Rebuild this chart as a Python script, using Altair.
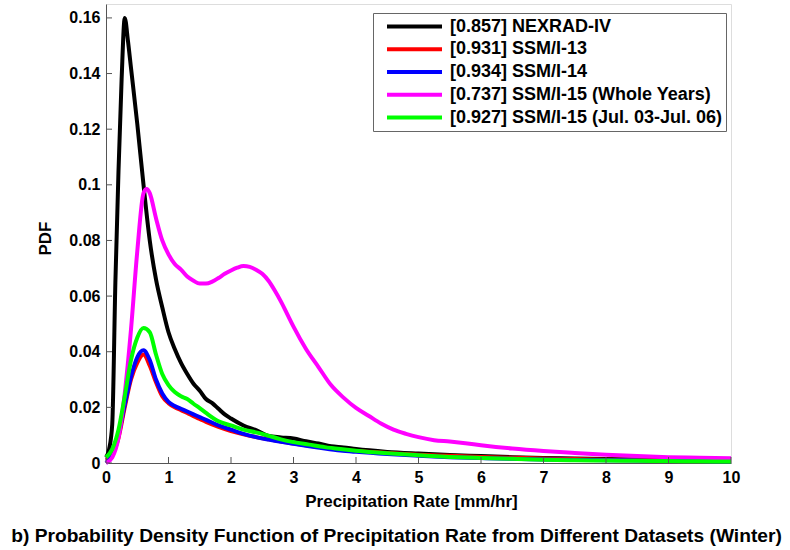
import altair as alt
import pandas as pd

series_names = [
    "[0.857] NEXRAD-IV",
    "[0.931] SSM/I-13",
    "[0.934] SSM/I-14",
    "[0.737] SSM/I-15 (Whole Years)",
    "[0.927] SSM/I-15 (Jul. 03-Jul. 06)",
]
series_colors = ["#000000", "#FF0000", "#0000FF", "#FF00FF", "#00FF00"]

nexrad_x = [0, 0.05, 0.1, 0.15, 0.2, 0.25, 0.3, 0.35, 0.4, 0.5, 0.6, 0.7, 0.8, 0.9, 1.0, 1.1, 1.2,
            1.3, 1.4, 1.5, 1.6, 1.7, 1.8, 1.9, 2.0, 2.2, 2.4, 2.6, 2.8, 3.0, 3.2, 3.4, 3.6, 3.8, 4.0,
            4.5, 5.0, 5.5, 6.0, 6.5, 7.0, 7.5, 8.0, 8.5, 9.0, 9.5, 10.0]
nexrad_y = [0.002, 0.005, 0.014, 0.065, 0.105, 0.138, 0.160, 0.152, 0.142, 0.122, 0.100, 0.080,
            0.066, 0.056, 0.047, 0.041, 0.036, 0.032, 0.0285, 0.026, 0.023, 0.0215, 0.0195, 0.0175,
            0.016, 0.0135, 0.0118, 0.0097, 0.0092, 0.0088, 0.0078, 0.0070, 0.0060, 0.0056, 0.0050,
            0.0040, 0.0034, 0.0029, 0.0025, 0.0021, 0.0018, 0.0016, 0.0014, 0.0013, 0.0012, 0.0011,
            0.0010]

grid_x = [0, 0.1, 0.2, 0.3, 0.4, 0.5, 0.6, 0.7, 0.8, 0.9, 1.0, 1.1, 1.2, 1.3, 1.4, 1.5, 1.6, 1.8,
          2.0, 2.2, 2.4, 2.6, 2.8, 3.0, 3.25, 3.5, 3.75, 4.0, 4.5, 5.0, 5.5, 6.0, 6.5, 7.0, 7.5, 8.0,
          8.5, 9.0, 9.5, 10.0]
ssmi13_y = [0.001, 0.003, 0.009, 0.020, 0.030, 0.036, 0.039, 0.035, 0.029, 0.024, 0.0215, 0.020,
            0.019, 0.018, 0.0168, 0.0158, 0.0148, 0.013, 0.0115, 0.0103, 0.0093, 0.0085, 0.0077,
            0.0070, 0.0062, 0.0055, 0.0048, 0.0043, 0.0036, 0.0030, 0.0026, 0.0022, 0.0019, 0.0016,
            0.0014, 0.0012, 0.0011, 0.0010, 0.0009, 0.0008]
ssmi14_y = [0.000, 0.003, 0.010, 0.021, 0.031, 0.038, 0.0405, 0.037, 0.030, 0.025, 0.022, 0.0205,
            0.0195, 0.0185, 0.0175, 0.0165, 0.0155, 0.0135, 0.012, 0.0105, 0.0093, 0.0084, 0.0076,
            0.0069, 0.0060, 0.0052, 0.0045, 0.0040, 0.0032, 0.0026, 0.0021, 0.0018, 0.0015, 0.0013,
            0.0011, 0.0010, 0.0009, 0.0008, 0.0007, 0.0006]
ssmi15jul_y = [0.002, 0.005, 0.012, 0.024, 0.037, 0.045, 0.0485, 0.047, 0.039, 0.032, 0.028, 0.0255,
               0.024, 0.023, 0.0213, 0.0197, 0.018, 0.015, 0.0135, 0.012, 0.011, 0.0098, 0.0085,
               0.0075, 0.0066, 0.0057, 0.0050, 0.0044, 0.0035, 0.0028, 0.0022, 0.0018, 0.0015,
               0.0012, 0.0010, 0.0009, 0.0008, 0.0007, 0.0006, 0.0005]

whole_x = [0, 0.1, 0.2, 0.3, 0.4, 0.5, 0.6, 0.65, 0.7, 0.8, 0.9, 1.0, 1.1, 1.2, 1.3, 1.4, 1.5, 1.6,
           1.7, 1.8, 1.9, 2.0, 2.1, 2.2, 2.3, 2.4, 2.5, 2.6, 2.7, 2.8, 2.9, 3.0, 3.2, 3.4, 3.6, 3.8,
           4.0, 4.2, 4.4, 4.6, 4.8, 5.0, 5.25, 5.5, 5.75, 6.0, 6.5, 7.0, 7.5, 8.0, 8.5, 9.0, 9.5,
           10.0]
whole_y = [0.000, 0.002, 0.009, 0.025, 0.048, 0.076, 0.097, 0.0985, 0.097, 0.088, 0.080, 0.075,
           0.0715, 0.0695, 0.067, 0.0655, 0.0645, 0.0645, 0.0652, 0.0665, 0.068, 0.0692, 0.0702,
           0.0708, 0.0705, 0.0695, 0.068, 0.0655, 0.062, 0.058, 0.0535, 0.049, 0.041, 0.0345, 0.028,
           0.0235, 0.0198, 0.017, 0.0142, 0.012, 0.0105, 0.0093, 0.0082, 0.0077, 0.0071, 0.0064,
           0.0052, 0.0043, 0.0036, 0.0030, 0.0025, 0.0021, 0.0019, 0.0017]

x_tick_values = [0, 1, 2, 3, 4, 5, 6, 7, 8, 9, 10]
y_tick_values = [0, 0.02, 0.04, 0.06, 0.08, 0.1, 0.12, 0.14, 0.16]

series_data = [
    (series_names[0], nexrad_x, nexrad_y),
    (series_names[1], grid_x, ssmi13_y),
    (series_names[2], grid_x, ssmi14_y),
    (series_names[3], whole_x, whole_y),
    (series_names[4], grid_x, ssmi15jul_y),
]
rows = []
for name, xs, ys in series_data:
    for xv, yv in zip(xs, ys):
        rows.append({"series": name, "rate": xv, "pdf": yv})
df = pd.DataFrame(rows)

W, H = 625, 459
FONT = "Liberation Sans"
xscale = alt.Scale(domain=[0, 10], nice=False)
yscale = alt.Scale(domain=[0, 0.165], nice=False)
cscale = alt.Scale(domain=series_names, range=series_colors)

x_axis = alt.Axis(values=x_tick_values, title="Precipitation Rate [mm/hr]", grid=False,
                  ticks=False, labelFlush=False, labelPadding=6, labelFont=FONT,
                  labelFontSize=16, labelFontWeight="bold", labelColor="black",
                  titleFont=FONT, titleFontSize=17, titleFontWeight="bold", titleColor="black",
                  titleX=305, titleY=38, titleBaseline="middle", domainColor="#555555")
y_axis = alt.Axis(values=y_tick_values, format="~g", title="PDF", grid=False, ticks=False,
                  labelFlush=False, labelPadding=6, labelFont=FONT, labelFontSize=16,
                  labelFontWeight="bold", labelColor="black", titleFont=FONT, titleFontSize=17,
                  titleFontWeight="bold", titleColor="black", titleX=-61, titleY=234,
                  titleAngle=270, titleBaseline="middle", titleAlign="center",
                  domainColor="#555555")
legend = alt.Legend(title=None, orient="none", legendX=267, legendY=9, strokeColor="#666666",
                    fillColor="white", padding=3, symbolType="stroke", symbolSize=3025,
                    symbolStrokeWidth=4, clipHeight=21, rowPadding=1.75, labelFont=FONT,
                    labelFontSize=18, labelFontWeight="bold", labelColor="black", labelLimit=500,
                    labelOffset=6, symbolOffset=9)

layers = []
for name in series_names:
    layers.append(
        alt.Chart(df).transform_filter(alt.datum.series == name)
        .mark_line(strokeWidth=4, interpolate="monotone")
        .encode(
            x=alt.X("rate:Q", scale=xscale, axis=x_axis),
            y=alt.Y("pdf:Q", scale=yscale, axis=y_axis),
            color=alt.Color("series:N", scale=cscale, legend=legend),
        )
    )

xt = pd.DataFrame({"rate": x_tick_values})
yt = pd.DataFrame({"pdf": y_tick_values})
x_ticks = alt.Chart(xt).mark_rule(color="#555555", strokeWidth=1).encode(
    x=alt.X("rate:Q", scale=xscale, axis=x_axis), y=alt.value(H), y2=alt.value(H - 6))
y_ticks = alt.Chart(yt).mark_rule(color="#555555", strokeWidth=1).encode(
    y=alt.Y("pdf:Q", scale=yscale, axis=y_axis), x=alt.value(0), x2=alt.value(6))

chart = alt.layer(*layers, x_ticks, y_ticks).properties(
    width=W, height=H,
    padding={"left": 106, "top": 4, "right": 59, "bottom": 87},
    autosize=alt.AutoSizeParams(type="none"),
    title=alt.TitleParams(
        text="b) Probability Density Function of Precipitation Rate from Different Datasets (Winter)",
        orient="bottom", anchor="middle", font=FONT, fontSize=19.2, fontWeight="bold",
        color="black", offset=18, dx=-22),
).configure_view(stroke=None).configure(background="white")

chart.save("out.html", embed_options={"renderer": "svg", "actions": False})
